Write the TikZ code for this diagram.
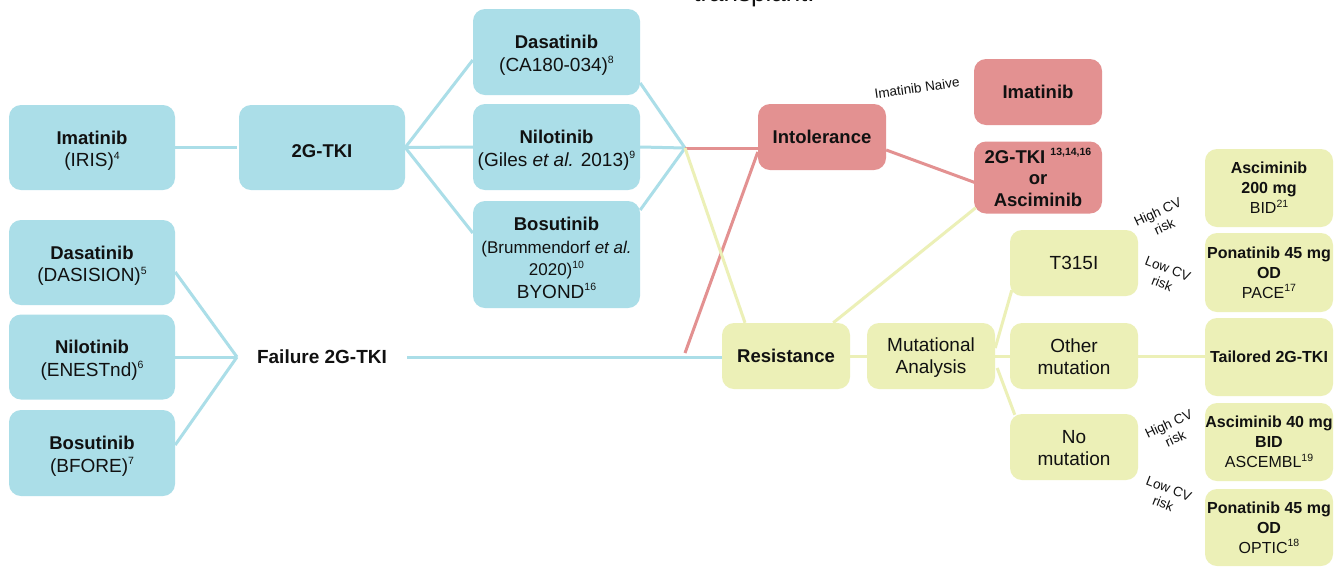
\documentclass[tikz,border=0pt]{standalone}
\usepackage{fontspec}
\setmainfont{Liberation Sans}
\usetikzlibrary{calc}
\definecolor{cblue}{HTML}{ABDEE8}
\definecolor{cred}{HTML}{E39191}
\definecolor{cyel}{HTML}{ECF0B7}
\definecolor{ctext}{HTML}{111111}
\newcommand\sups[1]{\raisebox{0.75ex}{\fontsize{10.5}{10.5}\selectfont #1}}
\newcommand\fs[2]{\fontsize{#1}{#2}\selectfont}
\newcommand\bfl[1]{{\fontsize{18.5}{22.5}\selectfont\bfseries\rule{0pt}{20pt}#1}}
\begin{document}
\begin{tikzpicture}[x=1pt,y=-1pt,
  box/.style={rounded corners=12pt, align=center, inner sep=0pt, text=ctext},
  bl/.style={box, fill=cblue, minimum width=166pt, minimum height=85pt, font=\fs{19}{22.5}},
  rd/.style={box, fill=cred, minimum width=128pt, minimum height=66pt, font=\fs{18.5}{21.5}\bfseries},
  ye/.style={box, fill=cyel, minimum width=128pt, minimum height=66pt, font=\fs{19}{22}},
  yr/.style={box, fill=cyel, minimum width=128pt, minimum height=78pt, font=\fs{16}{20}},
  lab/.style={align=center, inner sep=0pt, text=ctext, font=\fs{13.5}{16}},
  lb/.style={draw=cblue, line width=3pt},
  lr/.style={draw=cred, line width=3pt},
  ly/.style={draw=cyel, line width=3pt}
]
\useasboundingbox (0,0) rectangle (1343,566);
\fill[white] (0,0) rectangle (1343,566);

\node[anchor=base, text=ctext, font=\fs{26}{28}] (title) at (754,1) {transplant.};

% blue nodes
\node[bl] (imat) at (92,147.5) {\bfl{Imatinib}\\(IRIS)\sups{4}};
\node[bl] (tki) at (322,147.5) {\bfl{2G-TKI}};
\node[bl, minimum width=167pt, minimum height=86pt] (dasM) at (556.5,52) {\bfl{Dasatinib}\\(CA180-034)\sups{8}};
\node[bl, minimum width=167pt, minimum height=86pt] (niloM) at (556.5,147) {\bfl{Nilotinib}\\(Giles \textit{et al.} 2013)\sups{9}};
\node[bl, minimum width=167pt, minimum height=107pt] (bosM) at (556.5,254.5) {\bfl{Bosutinib}\\{\fs{17}{21}(Brummendorf \textit{et al.}}\\{\fs{17}{21}2020)\sups{10}}\\BYOND\sups{16}};
\node[bl] (dasL) at (92,262.5) {\bfl{Dasatinib}\\(DASISION)\sups{5}};
\node[bl] (niloL) at (92,357) {\bfl{Nilotinib}\\(ENESTnd)\sups{6}};
\node[bl, minimum height=86pt] (bosL) at (92,453) {\bfl{Bosutinib}\\(BFORE)\sups{7}};
\node[text=ctext, font=\fs{19}{21}\bfseries, inner sep=0pt] (fail) at (322,357) {Failure 2G-TKI};
\coordinate (F) at (237,357);
\coordinate (J) at (685,148);
\coordinate (J2) at (685,353);

% red nodes
\node[rd] (intol) at (822,137) {Intolerance};
\node[rd] (imatR) at (1038,92) {Imatinib};
\node[rd, minimum height=72pt] (tkiR) at (1038,177.5) {2G-TKI \sups{13,14,16}\\or\\Asciminib};

% yellow nodes
\node[ye, font=\fs{18.5}{22}\bfseries] (resist) at (786,356) {Resistance};
\node[ye] (mut) at (931,356) {\rule{0pt}{16pt}Mutational\\Analysis};
\node[ye] (t315) at (1074,263) {T315I};
\node[ye] (other) at (1074,356) {\rule{0pt}{16pt}Other\\mutation};
\node[ye] (nomut) at (1074,447) {\rule{0pt}{16pt}No\\mutation};
\node[yr] (asc200) at (1269,188) {{\bfseries Asciminib}\\{\bfseries 200 mg}\\BID\sups{21}};
\node[yr, minimum height=79pt] (pon1) at (1269,272.5) {{\bfseries Ponatinib 45 mg}\\{\bfseries OD}\\PACE\sups{17}};
\node[yr] (tail) at (1269,357) {\bfseries Tailored 2G-TKI};
\node[yr] (asc40) at (1269,442) {{\bfseries Asciminib 40 mg}\\{\bfseries BID}\\ASCEMBL\sups{19}};
\node[yr, minimum height=77pt] (pon2) at (1269,527.5) {{\bfseries Ponatinib 45 mg}\\{\bfseries OD}\\OPTIC\sups{18}};

% labels
\node[lab, rotate=8] (naive) at (917,88) {Imatinib Naive};
\node[lab, rotate=25] (hc1) at (1161,219) {High CV\\risk};
\node[lab, rotate=-21] (lc1) at (1165,276) {Low CV\\risk};
\node[lab, rotate=25] (hc2) at (1172,431) {High CV\\risk};
\node[lab, rotate=-21] (lc2) at (1166,496) {Low CV\\risk};

% connectors blue
\path[lb] (imat.east) -- ([xshift=-2pt]tki.west);
\path[lb] (tki.east) -- ($(dasM.west)+(0,8)$);
\path[lb] (tki.east) -- (niloM.west);
\path[lb] (tki.east) -- ($(bosM.west)+(0,-21.5)$);
\path[lb] ($(dasM.east)+(0,31)$) -- (J);
\path[lb] (niloM.east) -- (J);
\path[lb] ($(bosM.east)+(0,-44.5)$) -- (J);
\path[lb] ($(dasL.east)+(0,9.5)$) -- (F);
\path[lb] (niloL.east) -- (F);
\path[lb] ($(bosL.east)+(0,-8)$) -- (F);
\path[lb, shorten <=20pt] (fail.east) -- (fail.east -| resist.west);

% connectors red
\path[lr] (J) -- ($(intol.west)+(0,11)$);
\path[lr] (J2) -- ($(intol.west)+(0,15)$);
\path[lr] ($(intol.east)+(0,13)$) -- ($(tkiR.west)+(1,5)$);

% connectors yellow
\path[ly] (J) -- ($(resist.north)+(-41,0)$);
\path[ly] ($(resist.north east)+(-17,0)$) -- ($(tkiR.south west)+(2,-6)$);
\path[ly] (resist.east) -- (mut.west);
\path[ly] ($(mut.east)+(0,-8)$) -- ($(t315.south west)+(2,-6)$);
\path[ly] (mut.east) -- (other.west);
\path[ly] ($(mut.east)+(2,12)$) -- ($(nomut.north west)+(5,1)$);
\path[ly] (other.east) -- (other.east -| tail.west);
\end{tikzpicture}
\end{document}
